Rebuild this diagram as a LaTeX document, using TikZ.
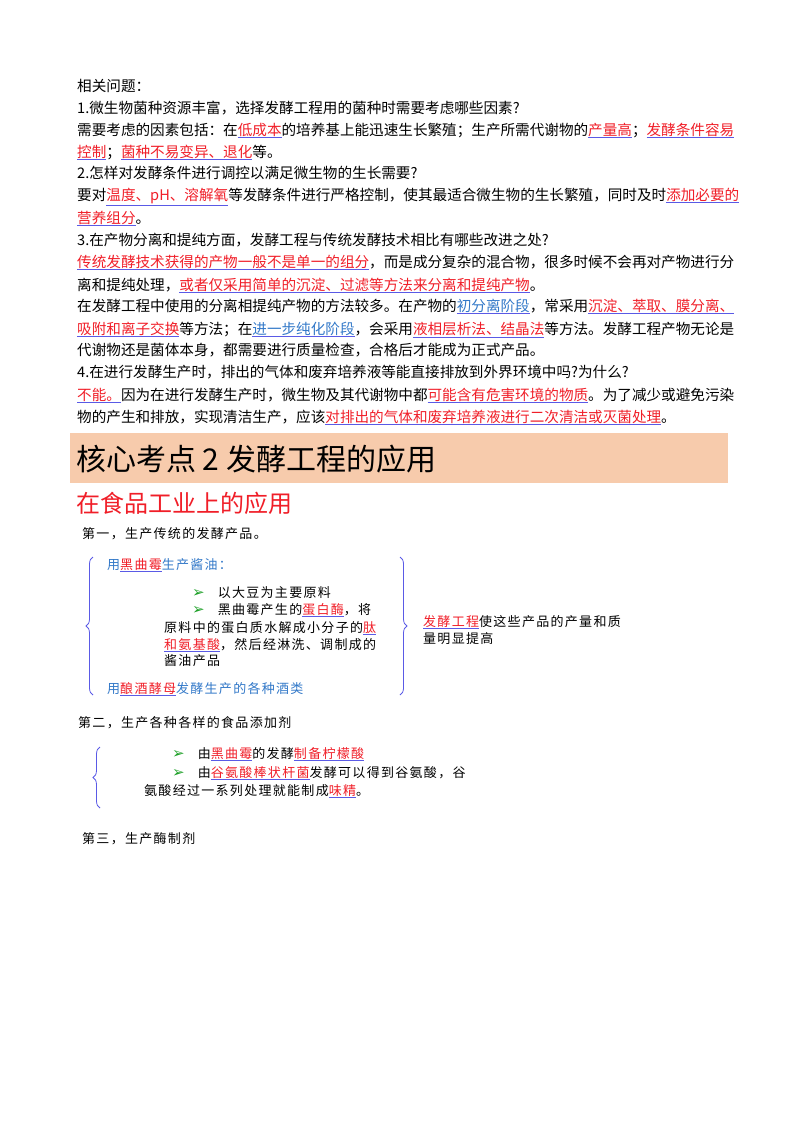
\documentclass[tikz,border=0pt]{standalone}
\usepackage{fontspec}
\usetikzlibrary{decorations.pathreplacing}
\setmainfont{Noto Sans CJK SC}
\newfontfamily\spacedfont[LetterSpace=10]{Noto Sans CJK SC}
\newfontfamily\djvfont{DejaVu Sans}
\definecolor{ulb}{RGB}{90,90,230}
\definecolor{rd}{RGB}{240,30,40}
\definecolor{bl}{RGB}{50,120,200}
\definecolor{peach}{RGB}{247,203,172}
\definecolor{gr}{RGB}{30,160,40}
\newcommand\hl[1]{{\color{ulb}\underline{\textcolor{rd}{#1}}}}
\newcommand\hb[1]{{\color{ulb}\underline{\textcolor{bl}{#1}}}}
\newcommand\arw{{\djvfont\fontsize{15}{16}\selectfont\textcolor{gr}{➢}}}
\begin{document}
\begin{tikzpicture}[x=1pt,y=-1pt,
  t/.style={anchor=base west,inner sep=0,font=\fontsize{14.6}{16}\selectfont},
  s/.style={anchor=base west,inner sep=0,font=\spacedfont\fontsize{13}{14}\selectfont},
  br/.style={draw=ulb,thick,decorate,decoration={brace,amplitude=7pt}}]
\useasboundingbox (0,0) rectangle (800,1132);
\node[t] (l1) at (77,92) {相关问题：};
\node[t] (l2) at (77,113) {1.微生物菌种资源丰富，选择发酵工程用的菌种时需要考虑哪些因素?};
\node[t] (l3) at (77,135) {需要考虑的因素包括：在\hl{低成本}的培养基上能迅速生长繁殖；生产所需代谢物的\hl{产量高}；\hl{发酵条件容易}};
\node[t] (l4) at (77,157) {\hl{控制}；\hl{菌种不易变异、退化}等。};
\node[t] (l5) at (77,178) {2.怎样对发酵条件进行调控以满足微生物的生长需要?};
\node[t] (l6) at (77,200) {要对\hl{温度、pH、溶解氧}等发酵条件进行严格控制，使其最适合微生物的生长繁殖，同时及时\hl{添加必要的}};
\node[t] (l7) at (77,223) {\hl{营养组分}。};
\node[t] (l8) at (77,245) {3.在产物分离和提纯方面，发酵工程与传统发酵技术相比有哪些改进之处?};
\node[t] (l9) at (77,267) {\hl{传统发酵技术获得的产物一般不是单一的组分}，而是成分复杂的混合物，很多时候不会再对产物进行分};
\node[t] (l10) at (77,290) {离和提纯处理，\hl{或者仅采用简单的沉淀、过滤等方法来分离和提纯产物}。};
\node[t] (l11) at (77,311) {在发酵工程中使用的分离相提纯产物的方法较多。在产物的\hb{初分离阶段}，常采用\hl{沉淀、萃取、膜分离、}};
\node[t] (l12) at (77,334) {\hl{吸附和离子交换}等方法；在\hb{进一步纯化阶段}，会采用\hl{液相层析法、结晶法}等方法。发酵工程产物无论是};
\node[t] (l13) at (77,355) {代谢物还是菌体本身，都需要进行质量检查，合格后才能成为正式产品。};
\node[t] (l14) at (77,377) {4.在进行发酵生产时，排出的气体和废弃培养液等能直接排放到外界环境中吗?为什么?};
\node[t] (l15) at (77,400) {\hl{不能。}因为在进行发酵生产时，微生物及其代谢物中都\hl{可能含有危害环境的物质}。为了减少或避免污染};
\node[t] (l16) at (77,422) {物的产生和排放，实现清洁生产，应该\hl{对排出的气体和废弃培养液进行二次清洁或灭菌处理}。};
\fill[peach] (70,433) rectangle (728,483);
\node[anchor=base west,inner sep=0,font=\fontsize{30}{32}\selectfont] (h1) at (76,470) {核心考点 2 发酵工程的应用};
\node[anchor=base west,inner sep=0,font=\fontsize{24}{26}\selectfont,text=rd] (h2) at (76,512) {在食品工业上的应用};
\node[s] (a0) at (82,538) {第一，生产传统的发酵产品。};
\draw[br] (93,695) -- (93,557);
\draw[br] (400,557) -- (400,695);
\node[s,text=bl] (a1) at (107,569) {用\hl{黑曲霉}生产酱油：};
\node[s] (a2) at (192,597) {\arw\hspace{13pt}以大豆为主要原料};
\node[s] (a3) at (192,614) {\arw\hspace{13pt}黑曲霉产生的\hl{蛋白酶}，将};
\node[s] (a4) at (164,632) {原料中的蛋白质水解成小分子的\hl{肽}};
\node[s] (a5) at (164,649) {\hl{和氨基酸}，然后经淋洗、调制成的};
\node[s] (a6) at (164,665) {酱油产品};
\node[s,text=bl] (a7) at (107,693) {用\hl{酿酒酵母}发酵生产的各种酒类};
\node[s] (a8) at (423,626) {\hl{发酵工程}使这些产品的产量和质};
\node[s] (a9) at (423,643) {量明显提高};
\node[s] (b0) at (78,727) {第二，生产各种各样的食品添加剂};
\draw[br] (100,808) -- (100,747);
\node[s] (b1) at (172,758) {\arw\hspace{13pt}由\hl{黑曲霉}的发酵\hl{制备柠檬酸}};
\node[s] (b2) at (172,777) {\arw\hspace{13pt}由\hl{谷氨酸棒状杆菌}发酵可以得到谷氨酸，谷};
\node[s] (b3) at (144,795) {氨酸经过一系列处理就能制成\hl{味精}。};
\node[s] (c0) at (82,843) {第三，生产酶制剂};
\end{tikzpicture}
\end{document}
